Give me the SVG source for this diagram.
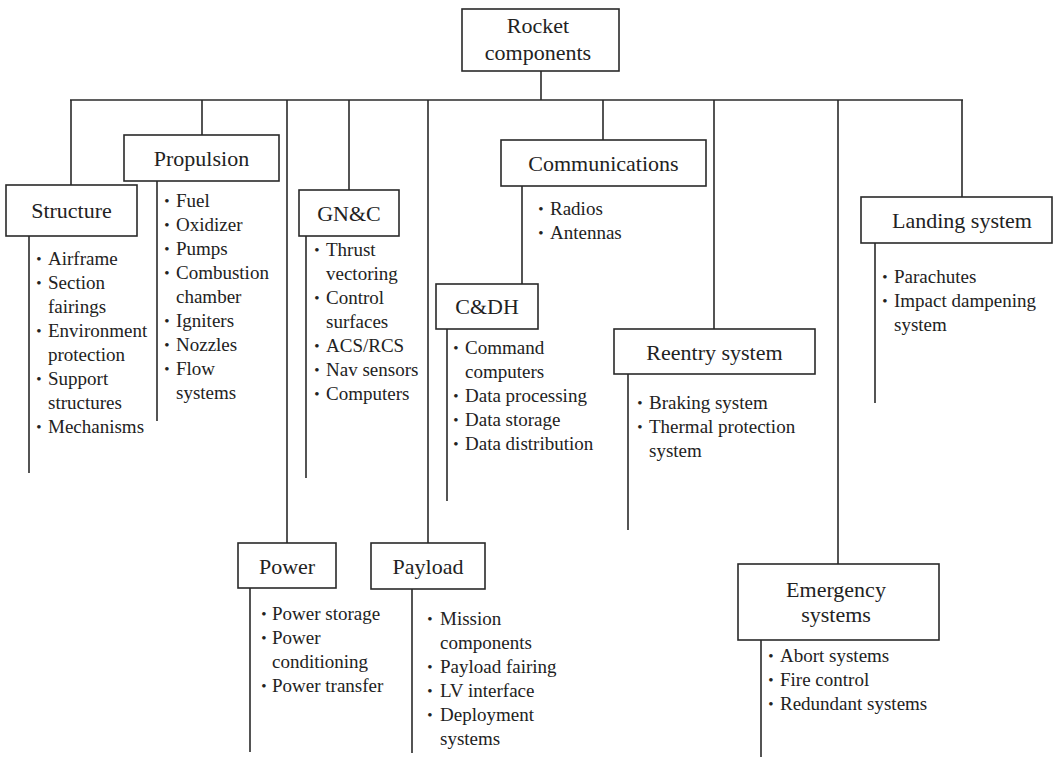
<svg xmlns="http://www.w3.org/2000/svg" width="1060" height="757" viewBox="0 0 1060 757">
<style>
.bx{fill:#fff;stroke:#2a2a2a;stroke-width:1.6}
.ln{stroke:#2a2a2a;stroke-width:1.6;fill:none}
.lb{font-family:"Liberation Serif",serif;font-size:22px;fill:#222;text-anchor:middle}
.it{font-family:"Liberation Serif",serif;font-size:19px;fill:#222}
.bu{font-family:"Liberation Serif",serif;font-size:15px;fill:#222;text-anchor:middle}
</style>
<rect width="1060" height="757" fill="#fff"/>
<g id="connectors">
<line class="ln" x1="541" y1="71" x2="541" y2="100"/>
<line class="ln" x1="70" y1="100" x2="963" y2="100"/>
<line class="ln" x1="71" y1="100" x2="71" y2="185"/>
<line class="ln" x1="202" y1="100" x2="202" y2="135"/>
<line class="ln" x1="287" y1="100" x2="287" y2="543"/>
<line class="ln" x1="349" y1="100" x2="349" y2="190"/>
<line class="ln" x1="428" y1="100" x2="428" y2="543"/>
<line class="ln" x1="603" y1="100" x2="603" y2="140"/>
<line class="ln" x1="714" y1="100" x2="714" y2="329"/>
<line class="ln" x1="838" y1="100" x2="838" y2="564"/>
<line class="ln" x1="962" y1="100" x2="962" y2="197"/>
<line class="ln" x1="522" y1="186" x2="522" y2="284"/>
<line class="ln" x1="29" y1="236" x2="29" y2="473"/>
<line class="ln" x1="157" y1="181" x2="157" y2="421"/>
<line class="ln" x1="306" y1="236" x2="306" y2="478"/>
<line class="ln" x1="447" y1="329" x2="447" y2="501"/>
<line class="ln" x1="628" y1="374" x2="628" y2="530"/>
<line class="ln" x1="875" y1="243" x2="875" y2="403"/>
<line class="ln" x1="250" y1="588" x2="250" y2="752"/>
<line class="ln" x1="412" y1="589" x2="412" y2="753"/>
<line class="ln" x1="761" y1="640" x2="761" y2="757"/>
</g>
<g id="root">
<rect class="bx" x="462" y="9" width="157" height="62"/>
<text class="lb" x="538" y="33">Rocket</text>
<text class="lb" x="538" y="60">components</text>
</g>
<g id="structure">
<rect class="bx" x="6" y="185" width="131" height="51"/>
<text class="lb" x="71.5" y="218">Structure</text>
<text class="bu" x="39" y="264">•</text><text class="it" x="48" y="265">Airframe</text>
<text class="bu" x="39" y="288">•</text><text class="it" x="48" y="289">Section</text>
<text class="it" x="48" y="313">fairings</text>
<text class="bu" x="39" y="336">•</text><text class="it" x="48" y="337">Environment</text>
<text class="it" x="48" y="361">protection</text>
<text class="bu" x="39" y="384">•</text><text class="it" x="48" y="385">Support</text>
<text class="it" x="48" y="409">structures</text>
<text class="bu" x="39" y="432">•</text><text class="it" x="48" y="433">Mechanisms</text>
</g>
<g id="propulsion">
<rect class="bx" x="124" y="135" width="155" height="46"/>
<text class="lb" x="201.5" y="166">Propulsion</text>
<text class="bu" x="167" y="206">•</text><text class="it" x="176" y="207">Fuel</text>
<text class="bu" x="167" y="230">•</text><text class="it" x="176" y="231">Oxidizer</text>
<text class="bu" x="167" y="254">•</text><text class="it" x="176" y="255">Pumps</text>
<text class="bu" x="167" y="278">•</text><text class="it" x="176" y="279">Combustion</text>
<text class="it" x="176" y="303">chamber</text>
<text class="bu" x="167" y="326">•</text><text class="it" x="176" y="327">Igniters</text>
<text class="bu" x="167" y="350">•</text><text class="it" x="176" y="351">Nozzles</text>
<text class="bu" x="167" y="374">•</text><text class="it" x="176" y="375">Flow</text>
<text class="it" x="176" y="399">systems</text>
</g>
<g id="gnc">
<rect class="bx" x="299" y="190" width="100" height="46"/>
<text class="lb" x="349" y="221">GN&amp;C</text>
<text class="bu" x="317" y="255">•</text><text class="it" x="326" y="256">Thrust</text>
<text class="it" x="326" y="280">vectoring</text>
<text class="bu" x="317" y="303">•</text><text class="it" x="326" y="304">Control</text>
<text class="it" x="326" y="328">surfaces</text>
<text class="bu" x="317" y="351">•</text><text class="it" x="326" y="352">ACS/RCS</text>
<text class="bu" x="317" y="375">•</text><text class="it" x="326" y="376">Nav sensors</text>
<text class="bu" x="317" y="399">•</text><text class="it" x="326" y="400">Computers</text>
</g>
<g id="communications">
<rect class="bx" x="501" y="140" width="205" height="46"/>
<text class="lb" x="603.5" y="171">Communications</text>
<text class="bu" x="541" y="214">•</text><text class="it" x="550" y="215">Radios</text>
<text class="bu" x="541" y="238">•</text><text class="it" x="550" y="239">Antennas</text>
</g>
<g id="cdh">
<rect class="bx" x="436" y="284" width="102" height="45"/>
<text class="lb" x="487" y="314">C&amp;DH</text>
<text class="bu" x="456" y="353">•</text><text class="it" x="465" y="354">Command</text>
<text class="it" x="465" y="378">computers</text>
<text class="bu" x="456" y="401">•</text><text class="it" x="465" y="402">Data processing</text>
<text class="bu" x="456" y="425">•</text><text class="it" x="465" y="426">Data storage</text>
<text class="bu" x="456" y="449">•</text><text class="it" x="465" y="450">Data distribution</text>
</g>
<g id="reentry">
<rect class="bx" x="614" y="329" width="201" height="45"/>
<text class="lb" x="714.5" y="360">Reentry system</text>
<text class="bu" x="640" y="408">•</text><text class="it" x="649" y="409">Braking system</text>
<text class="bu" x="640" y="432">•</text><text class="it" x="649" y="433">Thermal protection</text>
<text class="it" x="649" y="457">system</text>
</g>
<g id="landing">
<rect class="bx" x="861" y="197" width="191" height="46"/>
<text class="lb" x="962" y="228">Landing system</text>
<text class="bu" x="885" y="282">•</text><text class="it" x="894" y="283">Parachutes</text>
<text class="bu" x="885" y="306">•</text><text class="it" x="894" y="307">Impact dampening</text>
<text class="it" x="894" y="331">system</text>
</g>
<g id="power">
<rect class="bx" x="238" y="543" width="98" height="45"/>
<text class="lb" x="287" y="574">Power</text>
<text class="bu" x="264" y="619">•</text><text class="it" x="272" y="620">Power storage</text>
<text class="bu" x="264" y="643">•</text><text class="it" x="272" y="644">Power</text>
<text class="it" x="272" y="668">conditioning</text>
<text class="bu" x="264" y="691">•</text><text class="it" x="272" y="692">Power transfer</text>
</g>
<g id="payload">
<rect class="bx" x="371" y="543" width="114" height="46"/>
<text class="lb" x="428" y="574">Payload</text>
<text class="bu" x="430" y="624">•</text><text class="it" x="440" y="625">Mission</text>
<text class="it" x="440" y="649">components</text>
<text class="bu" x="430" y="672">•</text><text class="it" x="440" y="673">Payload fairing</text>
<text class="bu" x="430" y="696">•</text><text class="it" x="440" y="697">LV interface</text>
<text class="bu" x="430" y="720">•</text><text class="it" x="440" y="721">Deployment</text>
<text class="it" x="440" y="745">systems</text>
</g>
<g id="emergency">
<rect class="bx" x="738" y="564" width="201" height="76"/>
<text class="lb" x="836" y="597">Emergency</text>
<text class="lb" x="836" y="622">systems</text>
<text class="bu" x="771" y="661">•</text><text class="it" x="780" y="662">Abort systems</text>
<text class="bu" x="771" y="685">•</text><text class="it" x="780" y="686">Fire control</text>
<text class="bu" x="771" y="709">•</text><text class="it" x="780" y="710">Redundant systems</text>
</g>
</svg>
